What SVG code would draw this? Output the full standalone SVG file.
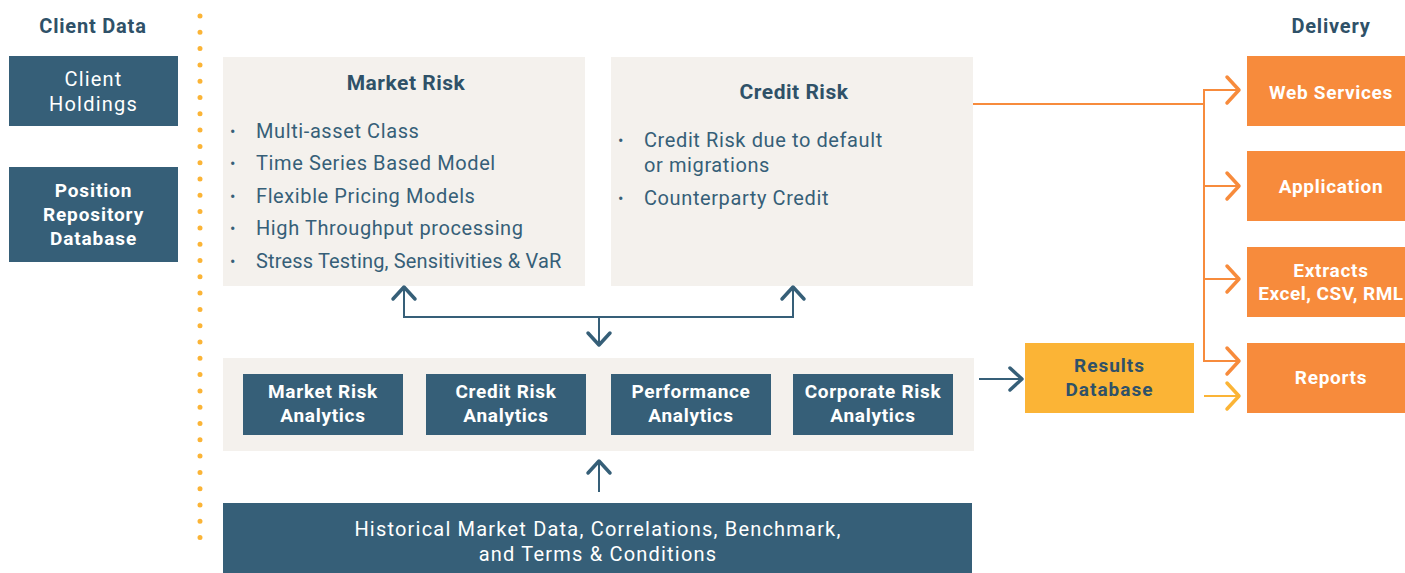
<svg xmlns="http://www.w3.org/2000/svg" width="1405" height="573" viewBox="0 0 1405 573">
<style>
text{font-family:Roboto,"Liberation Sans",sans-serif;}
.hd{font-size:20px;font-weight:bold;fill:#2f5168;text-anchor:middle;letter-spacing:0.8px;}
.slate{fill:#365f78;}
.panel{fill:#f4f1ed;}
.orange{fill:#f78b3c;}
.yellow{fill:#fbb436;}
.wt{fill:#ffffff;font-size:20px;text-anchor:middle;letter-spacing:1.2px;}
.wb{fill:#ffffff;font-size:19px;font-weight:bold;text-anchor:middle;letter-spacing:0.7px;}
.ttl{fill:#2f5168;font-size:21px;font-weight:bold;text-anchor:middle;letter-spacing:0.5px;}
.li{fill:#365f78;font-size:20px;letter-spacing:0.6px;}
.bl{fill:#365f78;font-size:16px;}
.ln{fill:none;stroke:#365f78;stroke-width:2;}
.hd2{fill:none;stroke:#365f78;stroke-width:3.5;stroke-linecap:round;stroke-linejoin:round;}
.lo{fill:none;stroke:#f78b3c;stroke-width:2;}
.ho{fill:none;stroke:#f78b3c;stroke-width:3.5;stroke-linecap:round;stroke-linejoin:round;}
.ly{fill:none;stroke:#fbb436;stroke-width:2;}
.hy{fill:none;stroke:#fbb436;stroke-width:3.5;stroke-linecap:round;stroke-linejoin:round;}
</style>
<rect width="1405" height="573" fill="#ffffff"/>

<g id="header-client">
<text class="hd" x="93" y="33">Client Data</text>
</g>
<g id="header-delivery">
<text class="hd" x="1331" y="33">Delivery</text>
</g>

<g id="divider">
<line x1="200" y1="16" x2="200" y2="546" stroke="#fbb436" stroke-width="5" stroke-linecap="round" stroke-dasharray="0 16.3"/>
</g>

<g id="client-holdings">
<rect class="slate" x="9" y="56" width="169" height="70"/>
<text class="wt" x="93.5" y="86">Client</text>
<text class="wt" x="93.5" y="111">Holdings</text>
</g>

<g id="position-repository">
<rect class="slate" x="9" y="167" width="169" height="95"/>
<text class="wb" x="93.5" y="197" style="letter-spacing:0.9px">Position</text>
<text class="wb" x="93.5" y="221" style="letter-spacing:0.9px">Repository</text>
<text class="wb" x="93.5" y="245" style="letter-spacing:0.9px">Database</text>
</g>

<g id="market-risk">
<rect class="panel" x="223" y="57" width="362" height="229"/>
<text class="ttl" x="406" y="90">Market Risk</text>
<text class="bl" x="230" y="137">•</text>
<text class="li" x="256" y="138">Multi-asset Class</text>
<text class="bl" x="230" y="169">•</text>
<text class="li" x="256" y="170">Time Series Based Model</text>
<text class="bl" x="230" y="202">•</text>
<text class="li" x="256" y="203">Flexible Pricing Models</text>
<text class="bl" x="230" y="234">•</text>
<text class="li" x="256" y="235">High Throughput processing</text>
<text class="bl" x="230" y="267">•</text>
<text class="li" x="256" y="268" style="letter-spacing:0.15px">Stress Testing, Sensitivities &amp; VaR</text>
</g>

<g id="credit-risk">
<rect class="panel" x="611" y="57" width="362" height="229"/>
<text class="ttl" x="794" y="99">Credit Risk</text>
<text class="bl" x="618" y="146">•</text>
<text class="li" x="644" y="147">Credit Risk due to default</text>
<text class="li" x="644" y="172">or migrations</text>
<text class="bl" x="618" y="204">•</text>
<text class="li" x="644" y="205">Counterparty Credit</text>
</g>

<g id="analytics">
<rect class="panel" x="223" y="358" width="751" height="93"/>
<g id="market-risk-analytics">
<rect class="slate" x="243" y="374" width="160" height="61"/>
<text class="wb" x="323" y="398">Market Risk</text>
<text class="wb" x="323" y="422">Analytics</text>
</g>
<g id="credit-risk-analytics">
<rect class="slate" x="426" y="374" width="160" height="61"/>
<text class="wb" x="506" y="398">Credit Risk</text>
<text class="wb" x="506" y="422">Analytics</text>
</g>
<g id="performance-analytics">
<rect class="slate" x="611" y="374" width="160" height="61"/>
<text class="wb" x="691" y="398">Performance</text>
<text class="wb" x="691" y="422">Analytics</text>
</g>
<g id="corporate-risk-analytics">
<rect class="slate" x="793" y="374" width="160" height="61"/>
<text class="wb" x="873" y="398">Corporate Risk</text>
<text class="wb" x="873" y="422">Analytics</text>
</g>
</g>

<g id="historical-data">
<rect class="slate" x="223" y="503" width="749" height="70"/>
<text class="wt" x="598" y="536">Historical Market Data, Correlations, Benchmark,</text>
<text class="wt" x="598" y="561">and Terms &amp; Conditions</text>
</g>

<g id="results-database">
<rect class="yellow" x="1025" y="343" width="169" height="70"/>
<text class="ttl" x="1109.5" y="372" style="font-size:19px;letter-spacing:1px">Results</text>
<text class="ttl" x="1109.5" y="396" style="font-size:19px;letter-spacing:1px">Database</text>
</g>

<g id="web-services">
<rect class="orange" x="1247" y="56" width="158" height="70"/>
<text class="wb" x="1331" y="99">Web Services</text>
</g>
<g id="application">
<rect class="orange" x="1247" y="151" width="158" height="70"/>
<text class="wb" x="1331" y="193">Application</text>
</g>
<g id="extracts">
<rect class="orange" x="1247" y="247" width="158" height="70"/>
<text class="wb" x="1331" y="277">Extracts</text>
<text class="wb" x="1331" y="300" style="letter-spacing:0.5px">Excel, CSV, RML</text>
</g>
<g id="reports">
<rect class="orange" x="1247" y="343" width="158" height="70"/>
<text class="wb" x="1331" y="384">Reports</text>
</g>

<g id="connectors">
<polyline class="ln" points="404,287 404,317 793,317 793,287"/>
<polyline class="hd2" points="393,299 404,287 415,299"/>
<polyline class="hd2" points="782,299 793,287 804,299"/>
<line class="ln" x1="599" y1="317" x2="599" y2="345"/>
<polyline class="hd2" points="588,333 599,345 610,333"/>
<line class="ln" x1="599" y1="492" x2="599" y2="461"/>
<polyline class="hd2" points="588,473 599,461 610,473"/>
<line class="ln" x1="979" y1="379" x2="1021" y2="379"/>
<polyline class="hd2" points="1010,368 1022,379 1010,390"/>
<polyline class="lo" points="973,104 1204,104"/>
<polyline class="lo" points="1238,90 1204,90 1204,361 1238,361"/>
<line class="lo" x1="1204" y1="186" x2="1238" y2="186"/>
<line class="lo" x1="1204" y1="279" x2="1238" y2="279"/>
<polyline class="ho" points="1227,77 1239,90 1227,103"/>
<polyline class="ho" points="1227,173 1239,186 1227,199"/>
<polyline class="ho" points="1227,266 1239,279 1227,292"/>
<polyline class="ho" points="1227,348 1239,361 1227,374"/>
<line class="ly" x1="1204" y1="396" x2="1238" y2="396"/>
<polyline class="hy" points="1227,383 1239,396 1227,409"/>
</g>
</svg>
